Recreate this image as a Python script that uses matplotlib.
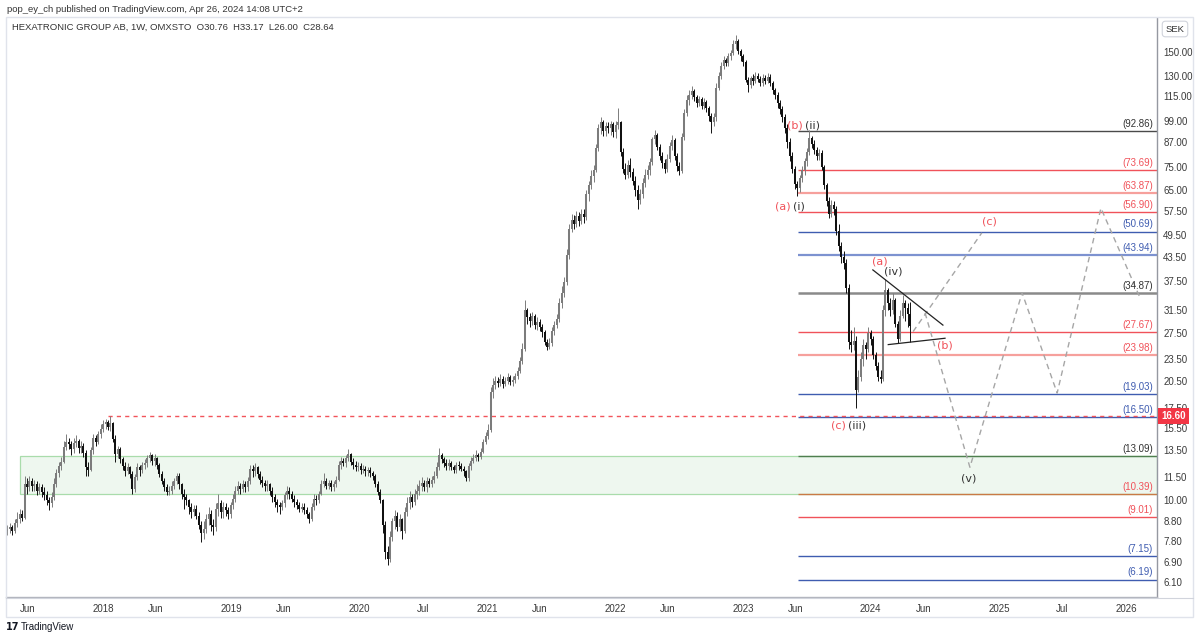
import datetime as dt
import matplotlib
matplotlib.use("Agg")
import matplotlib.pyplot as plt
import matplotlib.dates as mdates
from matplotlib.patches import Rectangle
from matplotlib.transforms import blended_transform_factory

# ---------------- data ----------------
last_week = dt.date(2024, 4, 22)
first_open = 8.3
closes = [
    8.4, 8.5, 8.3, 8.7, 8.9, 9.2, 9.0, 11.0, 10.8, 11.2,
    10.9, 11.0, 10.6, 10.8, 10.5, 10.3, 10.0, 9.8, 10.2, 11.0,
    11.8, 12.3, 12.6, 13.8, 14.2, 14.0, 13.6, 14.1, 14.3, 13.7,
    13.9, 13.3, 12.2, 12.0, 13.5, 14.6, 14.2, 14.9, 15.4, 15.8,
    16.0, 15.6, 15.9, 14.5, 13.2, 13.6, 12.8, 12.3, 11.9, 12.2,
    11.7, 10.7, 11.5, 12.2, 12.0, 12.4, 12.5, 12.9, 13.1, 12.7,
    12.9, 12.4, 11.7, 11.2, 10.8, 10.5, 10.6, 10.9, 11.2, 11.6,
    11.0, 10.4, 10.2, 10.0, 9.6, 9.3, 9.5, 9.1, 8.6, 8.2,
    8.4, 8.9, 9.2, 8.6, 8.5, 9.5, 9.8, 9.3, 9.6, 9.4,
    9.2, 9.7, 10.1, 10.6, 10.9, 10.7, 11.0, 10.8, 11.2, 12.1,
    11.9, 12.2, 11.7, 11.3, 11.1, 10.9, 11.0, 10.6, 10.2, 9.9,
    9.7, 9.6, 9.8, 10.3, 10.6, 10.4, 10.1, 9.9, 9.7, 9.5,
    9.6, 9.4, 9.2, 8.9, 9.6, 10.1, 10.0, 10.4, 11.0, 11.2,
    10.9, 11.1, 10.8, 11.0, 11.3, 12.4, 12.7, 12.5, 12.9, 13.2,
    12.6, 12.4, 12.2, 12.3, 12.0, 12.1, 11.9, 12.0, 11.8, 11.6,
    11.0, 10.5, 10.0, 8.6, 7.3, 7.0, 8.0, 8.8, 9.1, 8.5,
    8.9, 8.3, 9.3, 9.8, 10.2, 9.9, 10.4, 10.6, 10.9, 11.1,
    10.8, 11.2, 11.0, 11.3, 11.6, 12.2, 13.1, 12.8, 12.5, 12.3,
    12.5, 12.2, 12.0, 12.4, 12.3, 12.1, 11.9, 11.4, 12.3, 12.7,
    12.9, 13.1, 13.0, 13.4, 14.2, 14.7, 15.3, 19.2, 20.1, 20.5,
    20.3, 20.8, 20.2, 20.6, 21.0, 20.4, 20.7, 21.2, 21.8, 23.2,
    25.0, 31.5, 30.2, 29.5, 30.4, 28.8, 29.4, 28.5, 27.6, 26.0,
    25.3, 25.8, 27.8, 28.9, 29.8, 33.0, 35.0, 37.4, 44.0, 51.5,
    54.5, 53.0, 55.8, 54.0, 56.5, 55.2, 63.5, 67.0, 71.0, 73.5,
    84.0, 95.0, 98.5, 93.0, 96.0, 94.5, 97.0, 92.5, 96.5, 98.0,
    82.0, 74.0, 71.5, 76.0, 72.5, 69.0, 65.0, 61.5, 63.5, 68.0,
    71.5, 73.5, 77.0, 88.5, 91.0, 84.5, 80.0, 76.5, 74.0, 78.5,
    85.0, 88.0, 80.0, 75.5, 73.0, 90.0, 104.0, 112.0, 116.0, 118.5,
    114.0, 110.5, 113.0, 108.5, 111.0, 107.0, 102.0, 98.5, 101.0, 121.0,
    130.0, 138.0, 143.0, 140.5, 146.0, 149.0, 157.0, 160.0, 151.0, 146.0,
    141.0, 127.0, 123.0, 128.0, 126.0, 130.0, 127.5, 124.5, 128.5, 126.0,
    129.0, 124.0, 119.0, 116.0, 110.0, 106.0, 101.0, 95.0, 87.0, 80.0,
    74.0, 67.5, 66.0, 70.0, 73.5, 77.5, 82.0, 89.0, 86.0, 83.0,
    80.0, 81.5, 75.0, 67.0, 61.0, 56.5, 59.5, 58.0, 51.0, 46.5,
    43.5, 42.0, 36.0, 26.0, 25.5, 26.2, 19.5, 21.0, 23.5, 25.5,
    25.0, 27.5, 26.5, 24.0, 22.5, 21.0, 20.8, 31.5, 35.5, 33.0,
    31.5, 33.5, 29.0, 26.5, 30.5, 33.0, 32.0, 30.76, 28.64,
]
highs = [
    8.6, 8.7, 8.6, 8.9, 9.3, 9.5, 9.4, 11.6, 11.4, 11.6,
    11.4, 11.3, 11.2, 11.1, 11.0, 10.8, 10.6, 10.2, 10.5, 11.4,
    12.1, 12.6, 13.0, 14.3, 14.9, 14.6, 14.3, 14.6, 14.8, 14.5,
    14.3, 14.1, 13.5, 12.6, 13.8, 14.9, 14.8, 15.2, 15.8, 16.2,
    16.3, 16.2, 16.6, 16.0, 14.8, 13.9, 13.8, 13.0, 12.6, 12.5,
    12.3, 11.9, 11.7, 12.5, 12.4, 12.6, 12.8, 13.1, 13.4, 13.2,
    13.2, 13.0, 12.5, 11.9, 11.4, 11.0, 10.9, 11.2, 11.4, 11.8,
    11.8, 11.1, 10.7, 10.4, 10.1, 9.8, 9.7, 9.7, 9.3, 8.8,
    8.8, 9.2, 9.6, 9.4, 8.9, 9.8, 10.4, 10.0, 9.9, 9.8,
    9.6, 9.9, 10.4, 10.9, 11.2, 11.1, 11.3, 11.2, 11.5, 12.4,
    12.4, 12.5, 12.3, 11.9, 11.6, 11.3, 11.3, 11.1, 10.8, 10.4,
    10.1, 9.9, 10.0, 10.5, 10.9, 10.8, 10.6, 10.3, 10.1, 9.9,
    9.8, 9.8, 9.6, 9.3, 9.8, 10.4, 10.3, 10.6, 11.3, 11.8,
    11.4, 11.3, 11.3, 11.2, 11.6, 12.7, 13.0, 12.9, 13.1, 13.6,
    13.3, 12.9, 12.7, 12.6, 12.5, 12.4, 12.3, 12.2, 12.2, 11.9,
    11.7, 11.2, 10.7, 10.1, 8.8, 7.6, 8.3, 9.0, 9.4, 9.3,
    9.2, 9.0, 9.6, 10.2, 10.6, 10.4, 10.7, 11.0, 11.3, 11.5,
    11.3, 11.5, 11.4, 11.6, 11.9, 12.6, 13.7, 13.3, 13.0, 12.8,
    12.8, 12.7, 12.4, 12.6, 12.7, 12.5, 12.3, 12.0, 12.5, 13.0,
    13.2, 13.5, 13.3, 13.7, 14.5, 15.1, 15.8, 19.8, 20.9, 21.2,
    21.0, 21.4, 21.2, 21.1, 21.6, 21.3, 21.2, 21.6, 22.3, 23.8,
    25.8, 33.5, 32.0, 31.0, 31.2, 30.8, 30.2, 29.8, 29.0, 28.0,
    26.5, 26.6, 28.5, 29.5, 30.8, 34.0, 36.5, 38.5, 45.5, 53.0,
    56.5, 56.0, 57.5, 57.0, 58.0, 58.0, 65.0, 69.0, 73.5, 76.0,
    86.0, 97.0, 101.0, 99.5, 98.5, 98.0, 99.0, 98.0, 99.0, 107.0,
    99.0, 84.0, 76.5, 78.0, 79.0, 74.5, 71.0, 67.0, 65.5, 70.0,
    74.0, 76.0, 79.0, 90.0, 93.5, 92.0, 86.0, 82.0, 78.5, 81.0,
    87.0, 91.0, 89.0, 81.5, 77.0, 92.0, 106.0, 116.0, 119.0, 122.0,
    120.0, 116.0, 115.0, 114.5, 113.5, 112.5, 108.5, 104.0, 103.5, 124.0,
    133.0, 141.0, 146.0, 145.0, 149.0, 152.0, 161.0, 166.0, 162.0, 153.0,
    148.0, 143.0, 129.0, 130.0, 131.0, 133.0, 132.0, 130.0, 131.0, 130.5,
    132.0, 131.0, 126.0, 121.0, 118.0, 112.0, 108.0, 103.0, 97.0, 89.0,
    82.0, 75.5, 69.0, 71.5, 75.5, 79.0, 84.0, 93.5, 90.5, 88.0,
    84.5, 83.5, 83.0, 76.0, 68.0, 62.5, 61.5, 61.0, 59.0, 53.0,
    47.5, 45.0, 43.0, 37.0, 28.0, 28.5, 27.0, 22.0, 24.5, 26.5,
    26.0, 28.5, 28.0, 27.0, 24.5, 23.0, 22.0, 32.5, 38.0, 36.0,
    34.0, 35.0, 34.0, 29.5, 31.5, 34.5, 33.5, 33.0, 33.17,
]
lows = [
    8.1, 8.2, 8.1, 8.2, 8.5, 8.7, 8.8, 8.9, 10.4, 10.6,
    10.6, 10.6, 10.3, 10.4, 10.2, 10.0, 9.7, 9.4, 9.6, 10.0,
    10.8, 11.5, 12.0, 12.5, 13.5, 13.6, 13.1, 13.3, 13.8, 13.3,
    13.3, 13.0, 11.6, 11.6, 11.9, 13.2, 13.9, 14.0, 14.6, 15.1,
    15.4, 15.3, 15.2, 14.2, 12.6, 12.9, 12.5, 12.0, 11.6, 11.7,
    11.4, 10.4, 10.5, 11.3, 11.6, 11.8, 12.1, 12.2, 12.6, 12.4,
    12.3, 12.1, 11.5, 11.0, 10.6, 10.3, 10.3, 10.4, 10.7, 11.0,
    10.7, 10.1, 9.5, 9.7, 9.2, 9.0, 9.1, 8.9, 8.4, 7.75,
    7.9, 8.2, 8.6, 8.3, 8.1, 8.3, 9.1, 9.0, 9.0, 9.1,
    8.9, 9.0, 9.5, 9.9, 10.4, 10.4, 10.5, 10.5, 10.6, 11.0,
    11.5, 11.6, 11.4, 11.0, 10.8, 10.6, 10.6, 10.3, 9.9, 9.6,
    9.3, 9.2, 9.4, 9.6, 10.1, 10.1, 9.9, 9.6, 9.5, 9.3,
    9.3, 9.2, 9.0, 8.7, 8.8, 9.4, 9.7, 9.8, 10.3, 10.8,
    10.7, 10.7, 10.6, 10.6, 10.8, 11.2, 12.1, 12.3, 12.2, 12.7,
    12.4, 12.1, 11.9, 11.9, 11.7, 11.8, 11.6, 11.6, 11.5, 11.3,
    10.8, 10.3, 9.8, 8.2, 7.0, 6.75, 6.9, 7.8, 8.4, 8.3,
    8.3, 7.9, 8.2, 9.1, 9.5, 9.6, 9.7, 10.1, 10.3, 10.6,
    10.6, 10.5, 10.8, 10.8, 11.1, 11.4, 12.0, 12.5, 12.2, 12.0,
    12.0, 12.0, 11.8, 11.8, 12.0, 11.9, 11.6, 11.2, 11.2, 12.0,
    12.5, 12.7, 12.7, 12.8, 13.3, 14.0, 14.5, 15.1, 18.5, 19.6,
    19.8, 19.9, 19.7, 19.9, 20.2, 20.0, 19.9, 20.3, 20.8, 21.5,
    22.8, 24.6, 29.0, 28.5, 28.8, 28.2, 28.0, 27.8, 26.8, 25.5,
    24.8, 24.9, 25.4, 27.2, 28.3, 29.3, 32.0, 34.2, 36.8, 43.0,
    50.5, 51.5, 52.0, 52.5, 53.0, 53.5, 54.5, 61.0, 65.5, 68.5,
    72.5, 82.5, 91.5, 90.5, 90.5, 92.0, 91.0, 89.5, 89.0, 94.0,
    80.0, 72.0, 69.5, 70.0, 70.5, 67.0, 63.0, 58.0, 60.0, 62.0,
    66.5, 69.5, 71.5, 76.0, 86.0, 83.0, 78.0, 74.5, 72.0, 72.5,
    77.0, 83.0, 78.0, 73.0, 71.5, 72.0, 88.0, 102.0, 109.0, 113.0,
    111.5, 107.5, 108.0, 106.0, 106.5, 104.5, 99.0, 92.0, 96.0, 99.0,
    119.0, 127.5, 135.0, 137.5, 138.0, 143.0, 147.0, 153.0, 148.0, 142.0,
    138.0, 125.0, 118.0, 121.0, 123.0, 124.0, 125.0, 122.0, 122.5, 123.5,
    124.0, 122.0, 116.5, 113.0, 107.0, 103.0, 98.0, 92.0, 84.0, 77.5,
    72.0, 65.5, 63.0, 64.5, 68.5, 71.5, 75.5, 80.5, 84.0, 81.0,
    78.0, 78.0, 73.5, 65.5, 59.0, 55.0, 55.5, 56.0, 49.5, 45.0,
    42.0, 40.5, 35.0, 25.0, 24.5, 24.8, 17.5, 19.2, 20.5, 22.5,
    23.5, 24.5, 25.5, 23.5, 22.0, 20.5, 20.3, 20.5, 30.5, 31.5,
    30.5, 30.8, 28.5, 25.8, 26.2, 30.0, 29.5, 28.5, 26.00,
]
opens = [first_open] + closes[:-1]

fib_levels = [92.86, 73.69, 63.87, 56.90, 50.69, 43.94, 34.87, 27.67,
              23.98, 19.03, 16.50, 13.09, 10.39, 9.01, 7.15, 6.19]
fib_line_colors = ["#4a4a4a", "#f0525a", "#f6a09c", "#f0525a", "#3f5cb0", "#7d92d0",
                   "#8a8a8a", "#f0525a", "#f6a09c", "#3f5cb0", "#3f5cb0", "#4f7f4f",
                   "#c97a45", "#f0525a", "#3f5cb0", "#3f5cb0"]
fib_line_widths = [1.0, 1.0, 1.6, 1.0, 1.0, 1.6, 1.8, 1.0,
                   1.6, 1.0, 1.0, 1.0, 1.0, 1.0, 1.0, 1.0]
fib_text_colors = ["#333333", "#f0525a", "#f0525a", "#f0525a", "#3f5cb0", "#3f5cb0",
                   "#333333", "#f0525a", "#f0525a", "#3f5cb0", "#3f5cb0", "#333333",
                   "#f0525a", "#f0525a", "#3f5cb0", "#3f5cb0"]
fib_start = dt.date(2023, 6, 7)

resistance_level = 16.60
resistance_start = dt.date(2018, 1, 15)
zone_low, zone_high = 10.39, 13.09
zone_start = dt.date(2017, 5, 9)

ytick_vals = [6.10, 6.90, 7.80, 8.80, 10.00, 11.50, 13.50, 15.50, 17.50, 20.50, 23.50,
              27.50, 31.50, 37.50, 43.50, 49.50, 57.50, 65.00, 75.00, 87.00, 99.00,
              115.00, 130.00, 150.00]
xtick_dates = [dt.date(2017, 6, 1), dt.date(2018, 1, 1), dt.date(2018, 6, 1),
               dt.date(2019, 1, 1), dt.date(2019, 6, 1), dt.date(2020, 1, 1),
               dt.date(2020, 7, 1), dt.date(2021, 1, 1), dt.date(2021, 6, 1),
               dt.date(2022, 1, 1), dt.date(2022, 6, 1), dt.date(2023, 1, 1),
               dt.date(2023, 6, 1), dt.date(2024, 1, 1), dt.date(2024, 6, 1),
               dt.date(2025, 1, 1), dt.date(2025, 7, 1), dt.date(2026, 1, 1)]
xtick_labels = ["Jun", "2018", "Jun", "2019", "Jun", "2020", "Jul", "2021", "Jun",
                "2022", "Jun", "2023", "Jun", "2024", "Jun", "2025", "Jul", "2026"]

# wave labels: (text, date, price, colour)
wave_labels = [
    ("(b)", dt.date(2023, 5, 30), 96.0, "red"), ("(ii)", dt.date(2023, 7, 20), 96.0, "dark"),
    ("(a)", dt.date(2023, 4, 26), 58.8, "red"), ("(i)", dt.date(2023, 6, 10), 58.8, "dark"),
    ("(c)", dt.date(2023, 10, 2), 15.66, "red"), ("(iii)", dt.date(2023, 11, 23), 15.66, "dark"),
    ("(a)", dt.date(2024, 1, 27), 42.2, "red"), ("(iv)", dt.date(2024, 3, 5), 39.7, "dark"),
    ("(b)", dt.date(2024, 7, 31), 25.4, "red"), ("(c)", dt.date(2024, 12, 6), 53.7, "red"),
    ("(v)", dt.date(2024, 10, 7), 11.37, "dark"),
]
tri_upper_dates = [dt.date(2024, 1, 7), dt.date(2024, 7, 25)]
tri_upper_prices = [40.2, 28.8]
tri_lower_dates = [dt.date(2024, 2, 20), dt.date(2024, 7, 31)]
tri_lower_prices = [25.6, 26.6]
projA_dates = [dt.date(2024, 5, 1), dt.date(2024, 11, 13)]
projA_prices = [27.7, 50.3]
projB_dates = [dt.date(2024, 6, 4), dt.date(2024, 10, 10), dt.date(2025, 3, 8),
               dt.date(2025, 6, 16), dt.date(2025, 10, 19), dt.date(2026, 2, 8)]
projB_prices = [31.0, 12.2, 35.0, 19.1, 58.4, 33.9]

# ---------------- figure ----------------
UIFONT = ["Liberation Sans", "DejaVu Sans"]
W, H = 1200, 639
fig = plt.figure(figsize=(12, 6.39), dpi=100)
fig.patch.set_facecolor("white")


def fx(px):
    return px / W


def fy(py):
    return 1 - py / H


L, R, T, B = 6, 1157, 18, 597
ax = fig.add_axes([fx(L), fy(B), fx(R) - fx(L), fy(T) - fy(B)])
ax.set_yscale("log")
ax.set_ylim(5.57, 184.2)
ax.set_xlim(mdates.date2num(dt.date(2017, 3, 30)), mdates.date2num(dt.date(2026, 3, 28)))
xmax = ax.get_xlim()[1]

n = len(closes)
dates = [last_week - dt.timedelta(weeks=n - 1 - i) for i in range(n)]
xs = mdates.date2num(dates)

up_c, dn_c = "#7c7c7c", "#111111"
for x, o, h, l, c in zip(xs, opens, highs, lows, closes):
    col = up_c if c >= o else dn_c
    ax.vlines(x, l, h, color=col, lw=0.7, zorder=4)
    lo, hi = min(o, c), max(o, c)
    if hi / lo < 1.006:
        hi = lo * 1.006
    ax.vlines(x, lo, hi, color=col, lw=1.45, zorder=5)

# support zone
zs = mdates.date2num(zone_start)
ax.add_patch(Rectangle((zs, zone_low), xmax - zs, zone_high - zone_low,
                       facecolor="#eef7ef", edgecolor="#a9dcab", lw=0.9, zorder=1))

# resistance dashed line
ax.hlines(resistance_level, mdates.date2num(resistance_start), xmax, color="#f2545b",
          lw=1.0, linestyles=(0, (3, 3)), zorder=3)

# fib levels
fs = mdates.date2num(fib_start)
trans_lbl = blended_transform_factory(ax.transAxes, ax.transData)
for lv, lc, lw, tc in zip(fib_levels, fib_line_colors, fib_line_widths, fib_text_colors):
    ax.hlines(lv, fs, xmax, color=lc, lw=lw, zorder=2)
    ax.annotate(f"({lv:.2f})", xy=((1153 - L) / (R - L), lv), xycoords=trans_lbl,
                xytext=(0, 1.5), textcoords="offset points", ha="right", va="bottom",
                fontsize=7, family=UIFONT, color=tc, zorder=6)

# triangle
ax.plot(mdates.date2num(tri_upper_dates), tri_upper_prices, color="#222222", lw=0.9, zorder=6)
ax.plot(mdates.date2num(tri_lower_dates), tri_lower_prices, color="#222222", lw=0.9, zorder=6)

# projections
ax.plot(mdates.date2num(projA_dates), projA_prices, color="#a6a6a6", lw=1.0,
        ls=(0, (4, 3)), zorder=3)
ax.plot(mdates.date2num(projB_dates), projB_prices, color="#a6a6a6", lw=1.0,
        ls=(0, (4, 3)), zorder=3)

# wave labels
for txt, d, p, c in wave_labels:
    ax.text(mdates.date2num(d), p, txt, ha="center", va="center", fontsize=8,
            color="#f0525a" if c == "red" else "#333333", zorder=7)

# axes styling
for s in ["top", "left"]:
    ax.spines[s].set_visible(False)
ax.spines["right"].set_color("#9598a1")
ax.spines["bottom"].set_color("#b2b5be")
ax.spines["right"].set_linewidth(1.0)
ax.spines["bottom"].set_linewidth(1.0)
ax.yaxis.tick_right()
ax.minorticks_off()
ax.set_yticks(ytick_vals)
ax.set_yticklabels([f"{v:.2f}" for v in ytick_vals], family=UIFONT)
ax.tick_params(axis="y", length=0, pad=4.5, labelsize=7, labelcolor="#3a3a3a")
ax.yaxis.set_minor_locator(matplotlib.ticker.NullLocator())
ax.set_xticks(mdates.date2num(xtick_dates))
ax.set_xticklabels(xtick_labels, family=UIFONT)
ax.tick_params(axis="x", length=0, pad=5, labelsize=7, labelcolor="#3a3a3a")

# price label on axis
ax.annotate(f"{resistance_level:.2f}", xy=(1.0, resistance_level), xycoords=trans_lbl,
            xytext=(3, 0), textcoords="offset points", ha="left", va="center",
            fontsize=7, family=UIFONT, color="white", fontweight="bold",
            annotation_clip=False,
            bbox=dict(boxstyle="square,pad=0.3", fc="#f23645", ec="none"), zorder=10)

# frame around whole chart
fig.add_artist(Rectangle((fx(L), fy(617)), fx(1193) - fx(L), fy(17) - fy(617),
                         transform=fig.transFigure, fill=False, ec="#e0e3eb", lw=1.0))
fig.add_artist(plt.Line2D([fx(L), fx(1193)], [fy(598), fy(598)],
                          transform=fig.transFigure, color="#d1d4dc", lw=0.8))

# texts
fig.text(fx(7), fy(10), "pop_ey_ch published on TradingView.com, Apr 26, 2024 14:08 UTC+2",
         fontsize=6.8, family=UIFONT, color="#333333", va="center", ha="left")
fig.text(fx(12), fy(27), "HEXATRONIC GROUP AB, 1W, OMXSTO  O30.76  H33.17  L26.00  C28.64",
         fontsize=6.8, family=UIFONT, color="#333333", va="center", ha="left")
fig.text(fx(1175), fy(29), "SEK", fontsize=6.8, family=UIFONT, color="#333333",
         va="center", ha="center",
         bbox=dict(boxstyle="round,pad=0.35", fc="white", ec="#d1d4dc", lw=0.8))
fig.text(fx(6), fy(627), "17", fontsize=7, fontweight="heavy", color="#131722",
         va="center", ha="left", family=["DejaVu Sans"])
fig.text(fx(21), fy(627), "TradingView", fontsize=7, family=UIFONT, color="#131722",
         va="center", ha="left")

fig.savefig("out.png", dpi=100, facecolor="white")
